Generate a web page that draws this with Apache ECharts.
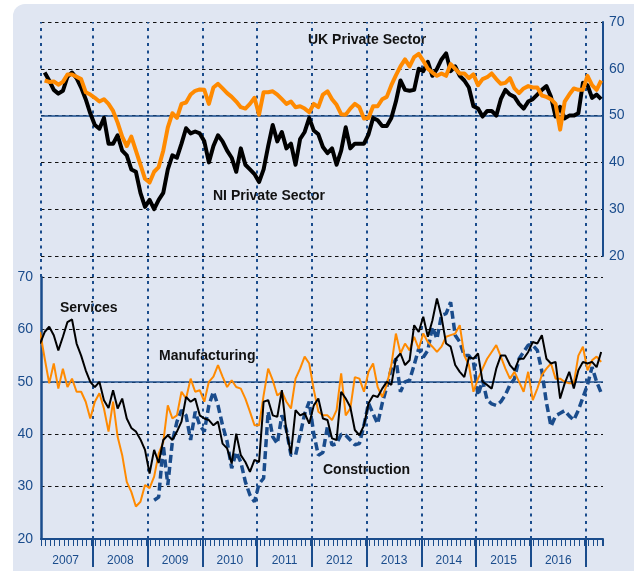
<!DOCTYPE html>
<html>
<head>
<meta charset="utf-8">
<script src="https://cdn.jsdelivr.net/npm/echarts@6/dist/echarts.min.js"></script>
<style>
  html, body { margin: 0; padding: 0; background: #ffffff; }
  #card { position: absolute; left: 13px; top: 4px; width: 640px; height: 600px; border-radius: 12px; background: #e0e6f2; }
  #pmi-chart { position: absolute; left: 0; top: 0; width: 634px; height: 571px; }
</style>
</head>
<body>
<div id="card"></div>
<div id="pmi-chart"></div>
<script>
var chartDom = document.getElementById('pmi-chart');
var myChart = echarts.init(chartDom);

// monthly readings, Jan 2007 .. Apr 2017 (null = no reading)
var yearLabels = ['2007', '2008', '2009', '2010', '2011', '2012', '2013', '2014', '2015', '2016'];

var ukPrivate = [
  null, 57.5, 57.2, 57.3, 56.6, 57.2, 58.8, 58.8, 58.3, 57.8, 55.0, 54.5,
  53.8, 53.0, 53.5, 52.5, 51.0, 48.5, 45.5, 43.5, 45.5, 42.5, 39.5, 36.5,
  35.7, 38.0, 39.0, 42.5, 47.5, 50.5, 49.5, 52.5, 52.8, 54.5, 55.3, 55.6,
  55.5, 52.5, 56.0, 56.8, 55.8, 54.8, 54.0, 53.0, 51.8, 51.5, 52.5, 53.8,
  50.2, 55.0, 55.0, 55.2, 54.5, 53.5, 52.5, 53.0, 51.8, 52.0, 51.5, 50.7,
  52.5, 51.8, 54.5, 55.2, 53.5, 52.3, 50.3, 50.2, 51.5, 52.5, 51.8, 49.4,
  49.5, 52.0, 52.0, 53.5, 54.0, 56.5, 58.6, 60.5, 62.0, 60.5, 62.5, 63.2,
  61.7, 60.0, 59.2, 58.5, 59.0, 58.5, 61.0, 60.0, 59.0, 59.0, 58.0, 58.8,
  56.5, 57.8, 58.2, 59.0, 57.8, 56.8, 57.0, 58.0, 55.8, 54.8, 55.8, 56.3,
  56.0, 56.0, 54.3, 54.0, 53.5, 52.5, 47.0, 53.0, 54.5, 55.8, 55.5, 55.5,
  58.5, 56.5, 55.5, 57.5
];

var niPrivate = [
  null, 59.2, 57.5, 55.5, 54.7, 55.3, 58.3, 59.2, 58.0, 56.0, 53.5, 50.5,
  48.0, 47.2, 49.5, 44.0, 44.0, 45.8, 42.5, 41.5, 38.5, 38.0, 33.5, 30.5,
  32.0, 30.0, 32.0, 33.5, 38.5, 41.5, 41.0, 44.0, 47.3, 46.2, 46.6, 46.2,
  44.5, 40.0, 43.5, 45.8, 44.5, 42.5, 41.0, 38.0, 43.0, 39.5, 38.5, 37.5,
  35.8, 38.5, 43.5, 48.0, 44.5, 46.5, 43.0, 44.0, 39.5, 45.0, 46.5, 49.5,
  46.8, 46.0, 43.3, 42.0, 43.0, 39.5, 42.5, 47.5, 43.0, 44.0, 44.0, 44.0,
  46.0, 49.5, 49.0, 47.8, 47.8, 49.5, 53.0, 57.5, 55.5, 55.3, 55.5, 60.0,
  59.5, 61.5, 58.5, 60.0, 62.0, 63.3, 59.5, 60.5, 58.5, 57.5, 56.0, 52.0,
  51.5, 49.8, 51.0, 51.0, 50.0, 53.5, 55.5, 54.5, 54.0, 52.5, 51.5, 53.0,
  53.5, 54.5, 55.5, 56.3, 54.0, 49.8, 51.9, 49.4, 50.0, 50.0, 50.5, 57.0,
  56.5, 53.8, 54.5, 53.5
];

var services = [
  57.3, 59.5, 60.5, 58.9, 56.0, 58.6, 61.4, 61.9, 57.3, 55.0, 52.2, 50.0,
  49.0, 50.0, 46.5, 45.0, 48.4, 44.9, 46.8, 43.0, 41.2, 40.5, 39.0, 37.0,
  32.5, 37.0, 34.5, 38.9, 39.8, 38.9, 40.5, 42.4, 47.1, 46.2, 46.8, 43.6,
  43.0, 42.7, 41.7, 42.4, 38.2, 37.3, 34.4, 40.1, 36.0, 34.7, 32.8, 35.1,
  34.7, 46.2, 46.5, 43.6, 43.3, 48.4, 40.5, 36.3, 44.6, 43.6, 44.0, 42.0,
  45.5, 46.8, 43.0, 42.7, 39.2, 38.9, 48.1, 46.8, 45.2, 40.8, 39.8, 41.7,
  45.9, 47.4, 47.1, 48.7, 50.0, 49.4, 54.4, 55.4, 53.2, 54.1, 60.8, 59.5,
  62.4, 58.6, 61.7, 65.9, 62.4, 57.3, 56.7, 53.2, 51.9, 50.9, 54.7, 54.4,
  55.4, 50.0, 49.4, 48.7, 52.5, 55.0, 55.0, 53.2, 52.2, 54.4, 54.4, 55.7,
  57.6, 57.3, 58.9, 54.4, 53.5, 53.8, 46.8, 49.7, 51.9, 48.7, 52.2, 53.8,
  53.5, 53.8, 52.8, 55.7
];

var manufacturing = [
  59.5, 54.5, 49.7, 53.5, 48.7, 52.5, 49.0, 50.6, 48.1, 48.1, 46.2, 43.0,
  46.2, 47.8, 44.9, 40.5, 46.2, 39.5, 36.0, 30.9, 29.0, 26.2, 27.1, 30.3,
  29.7, 31.9, 36.3, 38.5, 45.5, 43.0, 43.6, 48.1, 46.8, 50.6, 48.1, 48.4,
  46.2, 50.0, 51.0, 53.2, 51.0, 49.0, 50.3, 49.0, 48.7, 46.8, 44.3, 41.7,
  41.7, 47.4, 52.5, 50.3, 47.4, 48.1, 46.2, 44.9, 50.6, 52.5, 54.8, 53.5,
  48.5, 44.3, 43.6, 43.6, 42.7, 44.6, 51.6, 43.6, 44.9, 50.9, 50.6, 48.1,
  51.9, 53.5, 49.0, 47.1, 49.4, 53.2, 59.2, 55.4, 57.3, 56.0, 58.6, 56.3,
  59.2, 57.6, 56.7, 55.7, 56.7, 58.6, 58.9, 59.2, 60.8, 55.0, 53.2, 48.1,
  50.6, 52.5, 54.4, 55.7, 57.0, 54.8, 52.5, 50.6, 51.9, 50.0, 48.1, 51.9,
  46.5, 48.7, 51.3, 52.5, 53.5, 50.6, 50.6, 50.0, 49.7, 49.7, 55.0, 56.7,
  52.2, 54.1, 54.8, 53.8
];

var construction = [
  null, null, null, null, null, null, null, null, null, null, null, null,
  null, null, null, null, null, null, null, null, null, null, null, null,
  null, 27.4, 28.0, 37.9, 30.3, 38.6, 42.4, 44.6, 43.6, 38.9, 44.3, 41.7,
  40.5, 45.5, 48.1, 45.5, 41.7, 38.6, 33.5, 36.6, 34.7, 30.9, 28.4, 27.1,
  30.5, 31.6, 44.3, 39.5, 38.2, 43.6, 40.8, 36.0, 36.0, 39.8, 43.9, 46.2,
  40.0, 36.0, 36.5, 41.5, 37.9, 38.2, 40.0, 39.8, 38.9, 38.0, 38.2, 41.7,
  45.9, 43.9, 42.0, 45.9, 49.0, 52.5, 54.4, 48.1, 50.0, 50.3, 53.2, 56.3,
  54.7, 56.0, 60.5, 58.2, 62.7, 63.0, 65.2, 58.9, 57.6, 55.0, 55.0, 53.8,
  47.4, 50.3, 46.5, 45.8, 45.5, 46.2, 47.5, 49.4, 50.6, 54.4, 55.7, 57.0,
  57.0, 56.0, 52.0, 46.0, 41.5, 43.5, 44.0, 44.5, 43.5, 42.7, 44.6, 47.0,
  49.4, 52.8, 50.0, 47.9
];

var NAVY = '#1a4c8c';
var ORANGE = '#ff8a00';
var FONT = 'Liberation Sans, Arial, Helvetica, sans-serif';
var xMin = 0.6, xMax = 123.8;   // month units, 0 = Jan 2007

function toPoints(arr) {
  return arr.map(function (v, i) { return [i + 0.4, v]; });
}

var yearBounds = [];
var yearMids = [];
for (var k = 1; k <= yearLabels.length; k++) yearBounds.push(k * 12);
for (var k2 = 0; k2 < yearLabels.length; k2++) yearMids.push(k2 * 12 + 6);

var dotted = { color: NAVY, type: [3, 4.5], width: 2 };
var dashed = { color: '#111111', type: [3.5, 3.5], width: 1 };

// full-height vertical lines at the given x values
function vLines(values, lineStyle, z) {
  return {
    silent: true, symbol: ['none', 'none'], z: z || 1,
    label: { show: false },
    lineStyle: lineStyle,
    emphasis: { disabled: true },
    data: values.map(function (v) { return { xAxis: v }; })
  };
}

function fiftyLine() {
  return {
    silent: true, symbol: ['none', 'none'], z: 1,
    label: { show: false },
    lineStyle: { color: NAVY, type: 'solid', width: 1.5 },
    emphasis: { disabled: true },
    data: [{ yAxis: 50 }]
  };
}

function hiddenX(gi) { return { type: 'value', gridIndex: gi, min: xMin, max: xMax, show: false }; }

var option = {
  animation: false,
  textStyle: { fontFamily: FONT },
  grid: [
    { left: 41, right: 31, top: 22, height: 234, outerBoundsMode: 'none' },   // top panel
    { left: 41, right: 31, top: 277, height: 262, outerBoundsMode: 'none' },  // bottom panel
    { left: 41, right: 31, top: 256, height: 21, outerBoundsMode: 'none' },   // gap between panels
    { left: 41, right: 31, top: 518, height: 28, outerBoundsMode: 'none' },   // month ticks (bottom edge at 546)
    { left: 41, right: 31, top: 539, height: 28, outerBoundsMode: 'none' }    // year separators
  ],
  xAxis: [
    hiddenX(0),
    {
      type: 'value', gridIndex: 1, min: xMin, max: xMax,
      axisLine: { lineStyle: { color: NAVY, width: 2 } },
      axisTick: { show: false },
      axisLabel: {
        customValues: yearMids, margin: 16, color: NAVY, fontSize: 12, fontFamily: FONT,
        formatter: function (v) { return yearLabels[Math.round((v - 6) / 12)]; }
      },
      splitLine: { show: false }
    },
    hiddenX(2),
    {
      // monthly ticks under the bottom axis, pointing up from y=546
      type: 'value', gridIndex: 3, min: xMin, max: xMax, interval: 1, position: 'bottom',
      axisLine: { show: false },
      axisTick: { show: true, inside: true, length: 7, lineStyle: { color: NAVY, width: 1 } },
      axisLabel: { show: false },
      splitLine: { show: false }
    },
    hiddenX(4)
  ],
  yAxis: [
    {
      type: 'value', gridIndex: 0, min: 20, max: 70, interval: 10, position: 'right',
      axisLine: { show: true, lineStyle: { color: NAVY, width: 2 } },
      axisTick: { show: false },
      axisLabel: { color: NAVY, fontSize: 14, margin: 6, fontFamily: FONT },
      splitLine: { lineStyle: dashed }
    },
    {
      type: 'value', gridIndex: 1, min: 20, max: 70, interval: 10, position: 'left',
      axisLine: { show: true, lineStyle: { color: NAVY, width: 2.5 } },
      axisTick: { show: false },
      axisLabel: { color: NAVY, fontSize: 14, margin: 8, fontFamily: FONT },
      splitLine: { lineStyle: dashed }
    },
    { type: 'value', gridIndex: 2, min: 0, max: 1, show: false },
    { type: 'value', gridIndex: 3, min: 0, max: 1, show: false },
    { type: 'value', gridIndex: 4, min: 0, max: 1, show: false }
  ],
  series: [
    {
      name: 'top grid', type: 'line', xAxisIndex: 0, yAxisIndex: 0, data: [], z: 1,
      markLine: vLines([xMin].concat(yearBounds), dotted)
    },
    {
      name: 'NI Private Sector', type: 'line', xAxisIndex: 0, yAxisIndex: 0, z: 3,
      data: toPoints(niPrivate), showSymbol: false, symbol: 'none',
      lineStyle: { color: '#000000', width: 4, join: 'round' },
      markLine: fiftyLine()
    },
    {
      name: 'UK Private Sector', type: 'line', xAxisIndex: 0, yAxisIndex: 0, z: 4,
      data: toPoints(ukPrivate), showSymbol: false, symbol: 'none',
      lineStyle: { color: ORANGE, width: 4, join: 'round' }
    },
    {
      name: 'bottom grid', type: 'line', xAxisIndex: 1, yAxisIndex: 1, data: [], z: 1,
      markLine: vLines(yearBounds, dotted)
    },
    {
      name: 'Construction', type: 'line', xAxisIndex: 1, yAxisIndex: 1, z: 3,
      data: toPoints(construction), showSymbol: false, symbol: 'none',
      lineStyle: { color: NAVY, width: 3.5, type: [8, 4] },
      markLine: fiftyLine()
    },
    {
      name: 'Manufacturing', type: 'line', xAxisIndex: 1, yAxisIndex: 1, z: 4,
      data: toPoints(manufacturing), showSymbol: false, symbol: 'none',
      lineStyle: { color: ORANGE, width: 2 }
    },
    {
      name: 'Services', type: 'line', xAxisIndex: 1, yAxisIndex: 1, z: 5,
      data: toPoints(services), showSymbol: false, symbol: 'none',
      lineStyle: { color: '#000000', width: 2 }
    },
    {
      name: 'gap grid', type: 'line', xAxisIndex: 2, yAxisIndex: 2, data: [], z: 1,
      markLine: vLines([xMin].concat(yearBounds), dotted)
    },
    {
      name: 'year separators', type: 'line', xAxisIndex: 4, yAxisIndex: 4, data: [], z: 2,
      markLine: vLines(yearBounds, { color: NAVY, type: 'solid', width: 2 }, 3)
    }
  ],
  graphic: [
    { type: 'text', left: 308, top: 33, style: { text: 'UK Private Sector', font: 'bold 14px ' + FONT, fill: '#111111' } },
    { type: 'text', left: 213, top: 189, style: { text: 'NI Private Sector', font: 'bold 14px ' + FONT, fill: '#111111' } },
    { type: 'text', left: 60, top: 301, style: { text: 'Services', font: 'bold 14px ' + FONT, fill: '#111111' } },
    { type: 'text', left: 159, top: 349, style: { text: 'Manufacturing', font: 'bold 14px ' + FONT, fill: '#111111' } },
    { type: 'text', left: 323, top: 463, style: { text: 'Construction', font: 'bold 14px ' + FONT, fill: '#111111' } }
  ]
};

myChart.setOption(option);
window.addEventListener('resize', myChart.resize);
</script>
</body>
</html>
